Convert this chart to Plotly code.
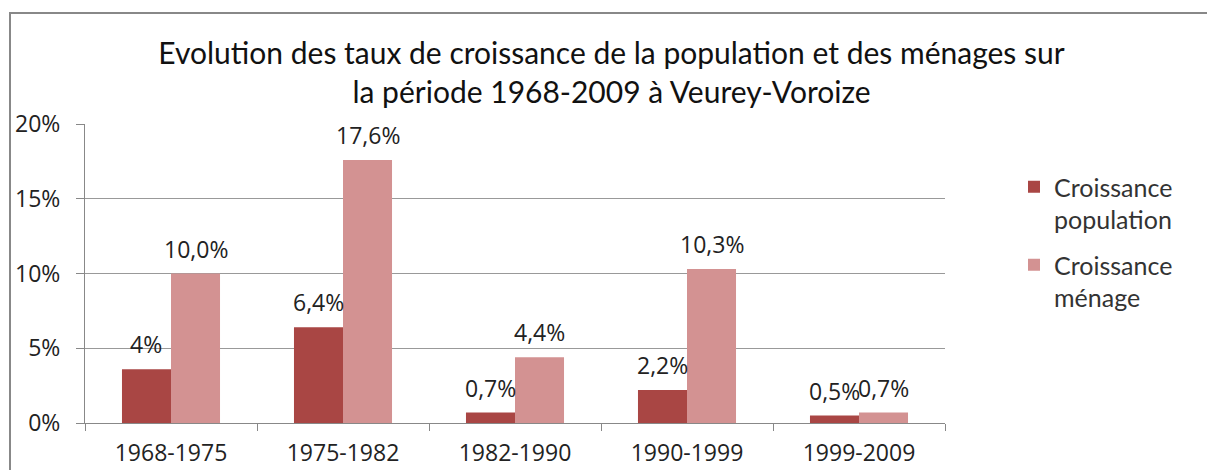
import plotly.graph_objects as go

categories = ["1968-1975", "1975-1982", "1982-1990", "1990-1999", "1999-2009"]
population = [3.6, 6.4, 0.7, 2.2, 0.5]
population_labels = ["4%", "6,4%", "0,7%", "2,2%", "0,5%"]
menage = [10.0, 17.6, 4.4, 10.3, 0.7]
menage_labels = ["10,0%", "17,6%", "4,4%", "10,3%", "0,7%"]
y_ticks = [0, 5, 10, 15, 20]
y_tick_labels = ["0%", "5%", "10%", "15%", "20%"]

# page has an 8px body margin, so the figure is drawn 8px smaller
W, H = 1207, 462
L, R, T, B = 77, 270, 116, 47
pw, ph = W - L - R, H - T - B
BARGAP = 0.43
cat_w = pw / len(categories)
bar_w = cat_w * (1 - BARGAP) / 2

font_main = "Open Sans, Noto Sans, sans-serif"
font_title = "Lato, sans-serif"
label_font = dict(family=font_main, size=23, color="#222")

fig = go.Figure()
fig.add_trace(go.Bar(
    x=categories, y=population, name="Croissance<br>population",
    legendgroup="pop",
    marker=dict(color="#A94644", line=dict(width=0)),
))
fig.add_trace(go.Bar(
    x=categories, y=menage, name="Croissance<br>ménage",
    legendgroup="men",
    marker=dict(color="#D39292", line=dict(width=0)),
))

annotations = []
for series, labels, sign in ((population, population_labels, -1), (menage, menage_labels, 1)):
    for c, v, t in zip(categories, series, labels):
        annotations.append(dict(
            x=c, y=v, xref="x", yref="y", text=t, showarrow=False,
            xanchor="center", yanchor="bottom",
            xshift=sign * bar_w / 2, yshift=7, font=label_font,
        ))

fig.update_layout(
    width=W, height=H,
    margin=dict(l=L, r=R, t=T, b=B, autoexpand=False),
    paper_bgcolor="white", plot_bgcolor="white",
    barmode="group", bargap=BARGAP, bargroupgap=0,
    showlegend=True,
    title=dict(
        text="Evolution des taux de croissance de la population et des ménages sur<br>la période 1968-2009 à Veurey-Voroize",
        font=dict(family=font_title, size=30, color="#111"),
        x=0.5, xanchor="center", xref="container",
        y=1 - 56 / H, yanchor="top",
    ),
    legend=dict(
        x=(1006 - L) / pw, xanchor="left", y=(H - B - 156) / ph, yanchor="top",
        font=dict(family=font_title, size=25, color="#333"),
        bgcolor="rgba(0,0,0,0)", itemwidth=30, tracegroupgap=10, valign="top",
        traceorder="grouped",
    ),
    annotations=annotations,
    xaxis=dict(
        showline=True, linecolor="#888", linewidth=1,
        ticks="outside", ticklen=7, tickcolor="#888", tickson="boundaries",
        tickfont=label_font, showgrid=False, ticklabelstandoff=9, automargin=False,
    ),
    yaxis=dict(
        range=[0, 20], tickvals=y_ticks, ticktext=y_tick_labels,
        showline=True, linecolor="#888", linewidth=1,
        ticks="outside", ticklen=8, tickcolor="#888",
        showgrid=True, gridcolor="#999", gridwidth=1,
        tickfont=label_font, automargin=False,
        ticklabelstandoff=11, zeroline=False,
    ),
    shapes=[dict(
        type="rect", xref="paper", yref="paper",
        x0=(2 - L) / pw, x1=(1260 - L) / pw,
        y0=(H - B - 480) / ph, y1=(H - B - 5) / ph,
        line=dict(color="#888", width=2), fillcolor="rgba(0,0,0,0)", layer="below",
    )],
)

fig.write_html("out.html")
